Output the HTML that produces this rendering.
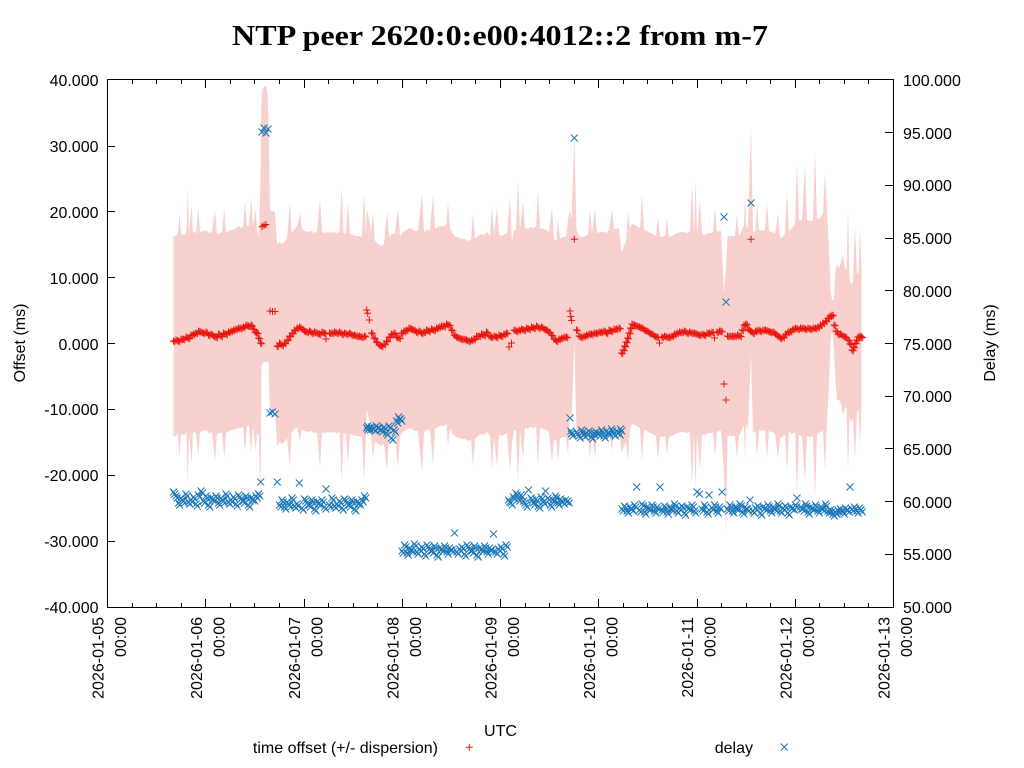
<!DOCTYPE html>
<html><head><meta charset="utf-8"><title>NTP peer chart</title>
<style>
html,body{margin:0;padding:0;background:#fff;}
svg{display:block;}
text{font-family:"Liberation Sans",sans-serif;font-size:16px;fill:#000;}
.t{font-family:"Liberation Serif",serif;font-weight:bold;font-size:28px;}
</style></head><body>
<svg width="1024" height="768" viewBox="0 0 1024 768" xmlns="http://www.w3.org/2000/svg" xmlns:xlink="http://www.w3.org/1999/xlink">
<defs>
<marker id="mp" markerUnits="userSpaceOnUse" markerWidth="9" markerHeight="9" refX="4.5" refY="4.5" overflow="visible"><path d="M1 4.5h7M4.5 1v7" stroke="#e8170f" stroke-width="1" fill="none"/></marker>
<marker id="mx" markerUnits="userSpaceOnUse" markerWidth="9" markerHeight="9" refX="4.5" refY="4.5" overflow="visible"><path d="M1 1l7 7M1 8l7-7" stroke="#1a76b8" stroke-width="1" fill="none"/></marker>
</defs>
<rect width="1024" height="768" fill="#fff"/>
<text class="t" x="500" y="45" text-anchor="middle" textLength="536" lengthAdjust="spacingAndGlyphs">NTP peer 2620:0:e00:4012::2 from m-7</text>

<!-- dispersion band -->
<polygon fill="#f8d0ce" stroke="none" points="
173.5,237 176,236 178,233 179.5,213 181,234 184,235 186.5,232 187.7,187 189,233 191.7,205 193,232 196,233 198.3,208 200,232 203,231 206,230 209,233 212,232 215,210 217,234 220,233 222,232 224.3,208 226,233 229,231 232,230 235,229 238,226 241,228 243,227 245,202 247,226 249,225 251,197 253,226 255.7,209 257,230 259,236 260.5,178 261.5,100 262.5,90 264,86 266,86 267.5,92 268.5,120 270,211 272.5,211 275,212 277,244 279.5,242 282,244 284.5,242 287,238 290,203 291.5,233 294.5,229 297,227 300,213 302,229 305,231 308,232 311,231 314,233 317,232 320,198 322,232 325,233 328,232 331,233 334,232 337,233 339.5,232 341.7,187 343.5,233 346,234 348,203 350,234 353,235 356,236 359,236 362,237 364,192 366,235 366.7,210 367.7,213 369.3,220 371,233 373,212 375,241 378,244 381,246 384,244 387,211 389,237 392,234 395,234 398,208 400,236 403,232 406,230 409,228 412,229 415,231 418,231 422,193 424,232 427,230 430,230 433,195 435,229 438,227 441,226 444,226 446.5,224 448,202 450,228 453,234 456,237 459,238 462,239 465,239 468,241 471,240 473,213 475,239 478,236 481,234 484,235 487,232 490,236 492,205 494,236 497,207 499,235 502,236 505,234 507,233 510,197 512,243 514,230 516,231 518,179 520,230 523,202 525,228 528,229 531,227 534,228 536,226 538,191 540,228 543,229 546,230 549,232 552,207 554,239 556.5,241 558,219 560,239 563,237 566,237 568,219 570,211 571.6,220 574.3,137 576.5,230 579,236 582,237 585,236 588,234 590,209 592,234 595,208 597,233 600,232 603,232 606,233 609,230 612,209 614,229 617,229 619,228 621.5,253 624,246 626,242 628,212 630,228 632,224 635,225 638,227 640,228 642,194 644,230 647,231 650,233 653,234 656,236 658,215 660,237 662,237 665,236 667,219 669,237 672,236 675,234 678,233 681,232 684,232 687,233 690,232 692,183 694,233 695.5,178 697,234 700,200 702,234 705,235 708,233 711,233 713,232 715,207 717,232 719.5,231 721,231 724,294 726,267 727.5,236 730,236 733,236 735,236 737,214 739,236 742,230 744,225 745,190 746,224 748,229 751,125 753,233 755.5,231 757,203 759,230 762,231 765,230 767,203 769,231 772,232 775,234 778,214 780,238 783,237 785,234 787,192 789,231 792,228 795,224 797,162 799,221 802,220 805,165 807,220 810,221 813,220 815,150 817,219 820,218 823,213 825,172 827,210 829,250 830.5,290 832,300 834,300 835.5,270 837,265 839,268 841,262 843,255 845,268 846.5,270 848,210 849.5,278 851,285 853,281 855,225 857,275 858.5,272 860,228 861.5,268
861.5,406 860,446 858.5,409 857,412 855,460 853,418 851,422 849.5,418 848,470 846.5,408 845,407 843,416 841,404 839,400 837,400 835.5,380 834,350 832,330 830.5,340 829,385 827,420 825,470 823,431 820,432 817,435 815,500 813,436 810,437 807,436 805,483 802,436 799,435 797,494 795,432 792,434 789,431 787,472 785,434 783,437 780,438 778,458 775,434 772,432 769,431 767,459 765,430 762,431 759,430 757,459 755.5,431 753,433 751,353 748,429 746,424 745,460 744,425 742,430 739,436 737,458 735,436 733,436 730,436 727.5,436 726,533 724,474 721,431 719.5,431 717,432 715,457 713,432 711,433 708,433 705,435 702,434 700,470 697,434 695.5,488 694,433 692,483 690,432 687,433 684,432 681,432 678,433 675,434 672,436 669,437 667,455 665,436 662,437 660,437 658,459 656,436 653,434 650,433 647,431 644,430 642,461 640,428 638,427 635,425 632,424 630,428 628,462 626,442 624,446 621.5,453 619,428 617,429 614,429 612,451 609,430 606,433 603,432 600,432 597,433 595,458 592,434 590,459 588,434 585,436 582,437 579,436 576.5,430 574.3,341 571.6,420 570,411 568,455 566,437 563,437 560,439 558,463 556.5,441 554,439 552,463 549,432 546,430 543,429 540,428 538,465 536,426 534,428 531,427 528,429 525,428 523,458 520,430 518,482 516,431 514,430 512,443 510,471 507,433 505,434 502,436 499,435 497,467 494,436 492,469 490,436 487,432 484,435 481,434 478,436 475,439 473,467 471,440 468,441 465,439 462,439 459,438 456,437 453,434 450,428 448,446 446.5,424 444,426 441,426 438,427 435,429 433,465 430,430 427,430 424,432 422,473 418,431 415,431 412,429 409,428 406,430 403,432 400,436 398,468 395,434 392,434 389,437 387,471 384,444 381,446 378,444 375,441 373,458 371,433 369.3,420 367.7,413 366.7,410 366,435 364,482 362,437 359,436 356,436 353,435 350,434 348,463 346,434 343.5,433 341.7,481 339.5,432 337,433 334,432 331,433 328,432 325,433 322,432 320,468 317,432 314,433 311,431 308,432 305,431 302,429 300,441 297,427 294.5,429 291.5,433 290,467 287,438 284.5,442 282,444 279.5,442 277,446 275,411 272.5,411 270,411 268.5,362 267.5,362 266,362 264,362 262.5,364 261.5,366 260.5,510 259,436 257,433 255.7,451 253,426 251,453 249,425 247,426 245,452 243,427 241,428 238,428 235,429 232,430 229,431 226,433 224.3,458 222,432 220,433 217,434 215,462 212,432 209,433 206,430 203,431 200,432 198.3,456 196,433 193,432 191.7,463 189,433 187.7,486 186.5,432 184,435 181,434 179.5,457 178,433 176,436 173.5,437"/>

<!-- time offset points (main, drawn twice for density) -->
<polyline id="offm" fill="none" stroke="none" marker-start="url(#mp)" marker-mid="url(#mp)" marker-end="url(#mp)" points="
173.5,341 176,340 178.5,341 181,339 183.5,339 186,337 188.5,338 191,335 193.5,334 196,333 198.5,331 201,332 203.5,333 206,332 208.5,335 211,334 213.5,336 216,337 218.5,334 221,336 223.5,333 226,334 228.5,332 231,331 233.5,330 236,329 238.5,328 241,328 243.5,327 246,325 248.5,326 251,325 253.5,329 255,332 257,333 258.5,338 260.5,343
277,346 279.5,343 282,345 284.5,343 287,340 289.5,336 292,333 294.5,330 297,328 299.5,327 302,329 304.5,331 307,332 309.5,331 312,333 314.5,332 317,333 319.5,334 322,332 324.5,333 329.5,333 332,333 334.5,332 337,333 339.5,332 342,334 344.5,333 347,334 349.5,333 352,335 354.5,335 357,336 359.5,336 362,337 364.5,336
371.5,333 374,338 376.5,342 379,345 381.5,346 384,344 386.5,341 389,337 391.5,334 394,333 396.5,337 399,338 401.5,333 404,331 406.5,330 409,328 411.5,329 414,330 416.5,332 419,331 421.5,333 424,332 426.5,330 429,331 431.5,329 434,330 436.5,328 439,327 441.5,326 444,326 446.5,324 449,325 451.5,330 454,335 456.5,337 459,338 461.5,339 464,339 466.5,340 469,341 471.5,340 474,339 476.5,336 479,336 481.5,334 484,335 486.5,332 489,336 491.5,337 494,336 496.5,337 499,335 501.5,336 504,334 506.5,333 514,330 516.5,331 519,330 521.5,329 524,330 526.5,328 529,329 531.5,327 534,328 536.5,326 539,328 541.5,327 544,329 546.5,330 549,332 551.5,335 554,339 556.5,341 559,339 561.5,338 564,337 566.5,337
576.5,330 579,336 581.5,337 584,336 586.5,335 589,334 591.5,334 594,333 596.5,333 599,332 601.5,332 604,331 606.5,333 609,330 611.5,331 614,329 616.5,329 619,328 621.5,353 623,350 624.5,346 626,342 627.5,338 629,333 630.5,328 632,324 634.5,325 637,326 639.5,327 642,328 644.5,330 647,331 649.5,333 652,334 654.5,336 657,337 662,337 664.5,336 667,337 669.5,337 672,336 674.5,334 677,333 679.5,332 682,332 684.5,331 687,333 689.5,332 692,333 694.5,333 697,334 699.5,335 702,334 704.5,335 707,333 709.5,333 712,332 717,332 719.5,331 721,331
727.5,336 730,336 732.5,336 735,336 737.5,335 740,336 742,330 744,325 746,324 748,329 750.5,331 753,333 755.5,331 758,330 760.5,331 763,330 765.5,330 768,331 770.5,332 773,332 775.5,334 778,336 780.5,338 783,337 785.5,334 788,332 790.5,331 793,329 795.5,328 798,329 800.5,328 803,328 805.5,329 808,328 810.5,329 813,328 815.5,328 818,327 820.5,325 823,323 825.5,321 828,318 830,316 832,315 834,325 836,331 838,334 840.5,334 843,336 845.5,337 848,340 850,344 852,350 853.5,347 855,343 856.5,340 858,337 860,336 861.5,337"/>
<use href="#offm" xlink:href="#offm" transform="translate(1.25,0.8)"/>
<!-- time offset outliers -->
<polyline fill="none" stroke="none" marker-start="url(#mp)" marker-mid="url(#mp)" marker-end="url(#mp)" points="
262,226.7 264,225.5 266,224.5 270,311 272.5,311.5 275,311.5 326,339 366.7,310 367.7,313.3 369.3,320 509,347 511.5,343 570,311 570.8,316.5 571.6,320.5 574.3,239.3 659.5,343 714.5,338 724,384 726,400 751,239.3"/>

<!-- delay points (main, drawn twice for density) -->
<polyline id="dlym" fill="none" stroke="none" marker-start="url(#mx)" marker-mid="url(#mx)" marker-end="url(#mx)" points="
173.5,492 176,496 178.5,503 181,498 183.5,501 186,494 188.5,502 191,500 193.5,497 196,504 198.5,495 201,491 203.5,501 206,496 208.5,505 211,498 213.5,499 216,496 218.5,503 221,498 223.5,501 226,494 228.5,502 231,500 233.5,497 236,504 238.5,495 241,499 243.5,501 246,496 248.5,505 251,498 253.5,499 256,496 258.5,494
279.5,505 282,500 284.5,507 287,502 289.5,505 292,498 294.5,506 297,504 302,508 304.5,499 307,503 309.5,505 312,500 314.5,509 317,502 319.5,503 322,500 324.5,507 329.5,505 332,498 334.5,506 337,504 339.5,501 342,508 344.5,499 347,503 349.5,505 352,500 354.5,509 357,502 359.5,503 362,500 364.5,496
366.7,428 367.7,426 369.3,428 371.5,427 374,429 376.5,426 379,428 381.5,430 384,427 386.5,433 389,426 391.5,438 394,430 396.5,421 398.5,417 400.5,419
402,551 404.5,545 407,553 409.5,548 412,550 414.5,544 417,552 419.5,549 422,547 424.5,554 427,545 429.5,549 432,551 434.5,546 437,555 439.5,548 442,549 444.5,546 447,552 449.5,548 452,550 457,552 459.5,549 462,547 464.5,554 467,545 469.5,549 472,551 474.5,546 477,555 479.5,548 482,549 484.5,546 487,552 489.5,548 492,550 496,552 498.5,549 501,547 503.5,554 506,545
508.5,500 511,503 513.5,497 516,493 518.5,499 521,495 523.5,501 526,505 531,498 533.5,503 536,499 538.5,506 541,497 543.5,502 548,498 550.5,505 553,500 555.5,496 558,503 560.5,499 563,502 565.5,500 568,501
570.8,431 571.6,434 576.5,432 579,436 581.5,430 584,435 586.5,433 589,431 591.5,437 594,433 596.5,432 599,434 601.5,430 604,436 606.5,431 609,433 611.5,429 614,434 616.5,431 619,433 620.5,429
622,509 624.5,506 627,511 629.5,507 632,509 634.5,505 639.5,510 642,504 644.5,512 647,507 649.5,508 652,505 654.5,511 657,507 662,510 664.5,506 667,512 669.5,507 672,509 674.5,504 677,511 679.5,508 682,506 684.5,513 687,507 689.5,508 692,505 694.5,511 702,509 704.5,505 707,512 712,508 714.5,505 717,511 719.5,507 727.5,509 730,505 732.5,511 735,507 737.5,508 740,504 742.5,512 745,507 747.5,509 753,511 755.5,508 758,506 760.5,513 763,507 765.5,508 768,505 770.5,511 773,507 775.5,509 778,504 780.5,511 783,508 785.5,506 788,513 790.5,507 793,508 795.5,505 800.5,507 803,509 805.5,504 808,512 810.5,507 813,508 815.5,505 818,511 820.5,507 823,509 825.5,504 828,511 830.5,510 833,514 835.5,512 838,510 840.5,509 843,512 845.5,508 848,510 852,509 854.5,507 857,511 859.5,508 861,510"/>
<use href="#dlym" xlink:href="#dlym" transform="translate(1.25,2)"/>
<!-- delay outliers -->
<polyline fill="none" stroke="none" marker-start="url(#mx)" marker-mid="url(#mx)" marker-end="url(#mx)" points="
260.7,482 262,132 264,128 266,133 268,129 270,413 272.5,412 275,414 277.3,482 299.3,483 326,489 454.5,533 493.5,534 528.5,490 545.5,491 570,418 574.3,138 636.7,487 660,487 697,492 699.5,494 709,495 722,492 724,217 726,302 750,500 751,203 797,498 850,487"/>

<!-- ticks -->
<path fill="none" stroke="#000" stroke-width="1" d="
M205.5 607v-8M304.5 607v-8M402.5 607v-8M500.5 607v-8M598.5 607v-8M697.5 607v-8M795.5 607v-8
M205.5 80v8M304.5 80v8M402.5 80v8M500.5 80v8M598.5 80v8M697.5 80v8M795.5 80v8
M132.5 607v-4M156.5 607v-4M181.5 607v-4M230.5 607v-4M254.5 607v-4M279.5 607v-4M328.5 607v-4M353.5 607v-4M377.5 607v-4M426.5 607v-4M451.5 607v-4M475.5 607v-4M525.5 607v-4M549.5 607v-4M574.5 607v-4M623.5 607v-4M647.5 607v-4M672.5 607v-4M721.5 607v-4M746.5 607v-4M770.5 607v-4M819.5 607v-4M844.5 607v-4M868.5 607v-4
M132.5 80v4M156.5 80v4M181.5 80v4M230.5 80v4M254.5 80v4M279.5 80v4M328.5 80v4M353.5 80v4M377.5 80v4M426.5 80v4M451.5 80v4M475.5 80v4M525.5 80v4M549.5 80v4M574.5 80v4M623.5 80v4M647.5 80v4M672.5 80v4M721.5 80v4M746.5 80v4M770.5 80v4M819.5 80v4M844.5 80v4M868.5 80v4
M107 146.5h8M107 211.5h8M107 277.5h8M107 343.5h8M107 409.5h8M107 475.5h8M107 541.5h8
M893 132.5h-8M893 185.5h-8M893 238.5h-8M893 290.5h-8M893 343.5h-8M893 396.5h-8M893 448.5h-8M893 501.5h-8M893 554.5h-8
"/>
<rect x="107.5" y="79.5" width="786" height="528" fill="none" stroke="#000" stroke-width="1"/>

<!-- left labels -->
<g text-anchor="end">
<text x="98.5" y="86">40.000</text>
<text x="98.5" y="152">30.000</text>
<text x="98.5" y="218">20.000</text>
<text x="98.5" y="284">10.000</text>
<text x="98.5" y="350">0.000</text>
<text x="98.5" y="415">-10.000</text>
<text x="98.5" y="481">-20.000</text>
<text x="98.5" y="547">-30.000</text>
<text x="98.5" y="613">-40.000</text>
</g>
<!-- right labels -->
<g text-anchor="start">
<text x="903" y="86">100.000</text>
<text x="903" y="139">95.000</text>
<text x="903" y="191">90.000</text>
<text x="903" y="244">85.000</text>
<text x="903" y="297">80.000</text>
<text x="903" y="350">75.000</text>
<text x="903" y="402">70.000</text>
<text x="903" y="455">65.000</text>
<text x="903" y="508">60.000</text>
<text x="903" y="560">55.000</text>
<text x="903" y="613">50.000</text>
</g>
<!-- x labels -->
<g text-anchor="end">
<text transform="translate(103.5,617) rotate(-90)">2026-01-05</text>
<text transform="translate(126.2,617) rotate(-90)">00:00</text>
<text transform="translate(201.75,617) rotate(-90)">2026-01-06</text>
<text transform="translate(224.45,617) rotate(-90)">00:00</text>
<text transform="translate(300,617) rotate(-90)">2026-01-07</text>
<text transform="translate(322.7,617) rotate(-90)">00:00</text>
<text transform="translate(398.25,617) rotate(-90)">2026-01-08</text>
<text transform="translate(420.95,617) rotate(-90)">00:00</text>
<text transform="translate(496.5,617) rotate(-90)">2026-01-09</text>
<text transform="translate(519.2,617) rotate(-90)">00:00</text>
<text transform="translate(594.75,617) rotate(-90)">2026-01-10</text>
<text transform="translate(617.45,617) rotate(-90)">00:00</text>
<text transform="translate(693,617) rotate(-90)">2026-01-11</text>
<text transform="translate(715.7,617) rotate(-90)">00:00</text>
<text transform="translate(791.25,617) rotate(-90)">2026-01-12</text>
<text transform="translate(813.95,617) rotate(-90)">00:00</text>
<text transform="translate(889.5,617) rotate(-90)">2026-01-13</text>
<text transform="translate(912.2,617) rotate(-90)">00:00</text>
</g>
<!-- axis titles -->
<text transform="translate(25,343) rotate(-90)" text-anchor="middle">Offset (ms)</text>
<text transform="translate(995,343) rotate(-90)" text-anchor="middle">Delay (ms)</text>
<text x="500.5" y="736" text-anchor="middle">UTC</text>
<!-- legend -->
<text x="438" y="753" text-anchor="end">time offset (+/- dispersion)</text>
<path d="M465.8 747.3h7M469.3 743.8v7" stroke="#e8170f" stroke-width="1" fill="none"/>
<text x="753" y="753" text-anchor="end">delay</text>
<path d="M780.8 743.5l7 7M780.8 750.5l7 -7" stroke="#1a76b8" stroke-width="1" fill="none"/>
</svg>
</body></html>
